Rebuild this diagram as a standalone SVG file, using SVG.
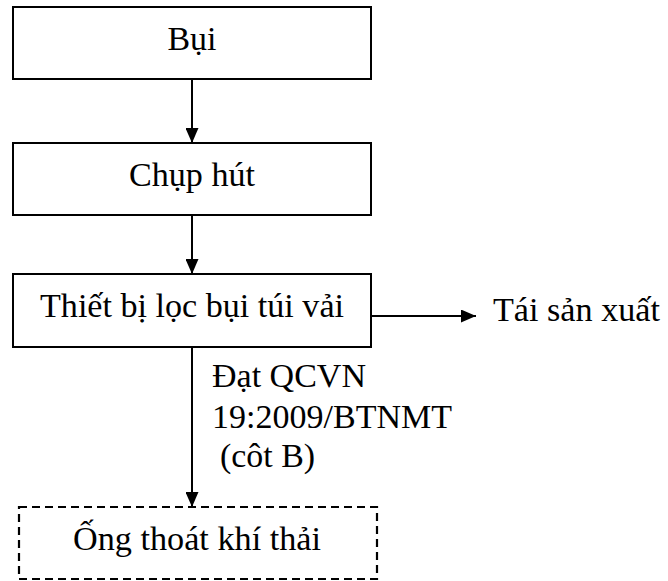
<svg xmlns="http://www.w3.org/2000/svg" width="668" height="581" viewBox="0 0 668 581">
  <style>
    .box { fill: #fff; stroke: #000; stroke-width: 2; }
    .dash { fill: #fff; stroke: #000; stroke-width: 2.2; stroke-dasharray: 8 5; }
    .edge { stroke: #000; stroke-width: 2; fill: none; }
  </style>
  <defs>
    <marker id="arrow" viewBox="0 0 15 13" refX="15" refY="6.5" markerWidth="15" markerHeight="13" markerUnits="userSpaceOnUse" orient="auto">
      <path d="M0,0 L15,6.5 L0,13 Z" fill="#000"/>
    </marker>
  </defs>

  <!-- process steps -->
  <g id="bui">
    <rect class="box" x="13" y="7" width="358" height="72"/>
    <text x="192" y="50" text-anchor="middle" font-family="Liberation Serif, DejaVu Serif, serif" font-size="34" textLength="49" lengthAdjust="spacingAndGlyphs">Bụi</text>
  </g>
  <g id="chup-hut">
    <rect class="box" x="13" y="143" width="358" height="72"/>
    <text x="192" y="186" text-anchor="middle" font-family="Liberation Serif, DejaVu Serif, serif" font-size="34" textLength="126" lengthAdjust="spacingAndGlyphs">Chụp hút</text>
  </g>
  <g id="loc-bui">
    <rect class="box" x="13" y="274" width="358" height="73"/>
    <text x="192" y="317" text-anchor="middle" font-family="Liberation Serif, DejaVu Serif, serif" font-size="34" textLength="304" lengthAdjust="spacingAndGlyphs">Thiết bị lọc bụi túi vải</text>
  </g>
  <g id="tai-san-xuat">
    <text x="493" y="321" font-family="Liberation Serif, DejaVu Serif, serif" font-size="34" textLength="167" lengthAdjust="spacingAndGlyphs">Tái sản xuất</text>
  </g>
  <g id="ong-thoat">
    <rect class="dash" x="19" y="507" width="358" height="72"/>
    <text x="197" y="550" text-anchor="middle" font-family="Liberation Serif, DejaVu Serif, serif" font-size="34" textLength="248" lengthAdjust="spacingAndGlyphs">&#x1ED0;ng thoát khí thải</text>
  </g>

  <!-- connectors -->
  <g id="edges">
    <line class="edge" x1="192" y1="79" x2="192" y2="143" marker-end="url(#arrow)"/>
    <line class="edge" x1="192" y1="215" x2="192" y2="274" marker-end="url(#arrow)"/>
    <line class="edge" x1="371" y1="316" x2="476" y2="316" marker-end="url(#arrow)"/>
    <line class="edge" x1="192" y1="347" x2="192" y2="507" marker-end="url(#arrow)"/>
    <g id="edge-label">
      <text x="212" y="387" font-family="Liberation Serif, DejaVu Serif, serif" font-size="34" textLength="154" lengthAdjust="spacingAndGlyphs">Đạt QCVN</text>
      <text x="212" y="428" font-family="Liberation Serif, DejaVu Serif, serif" font-size="34" textLength="240" lengthAdjust="spacingAndGlyphs">19:2009/BTNMT</text>
      <text x="220" y="467" font-family="Liberation Serif, DejaVu Serif, serif" font-size="34" textLength="95" lengthAdjust="spacingAndGlyphs">(côt B)</text>
    </g>
  </g>
</svg>
